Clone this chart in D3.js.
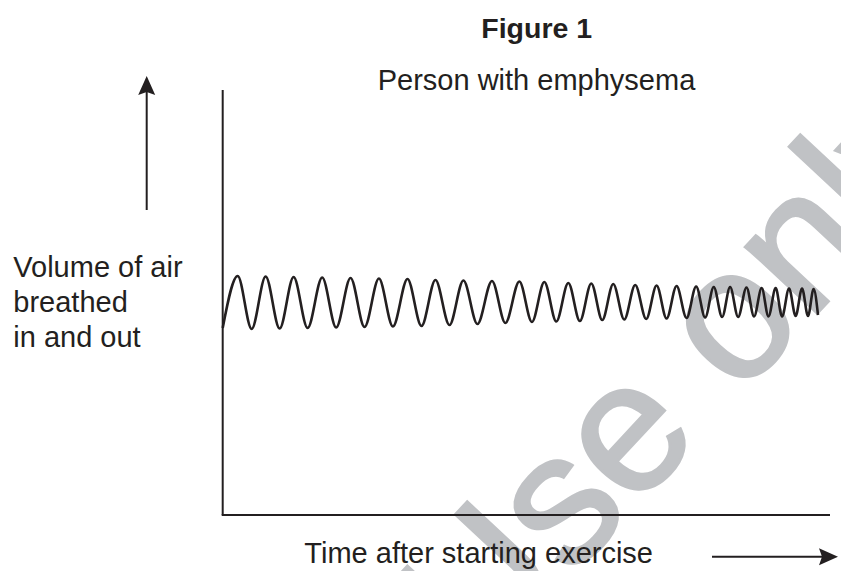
<!DOCTYPE html>
<html>
<head>
<meta charset="utf-8">
<script src="https://cdn.jsdelivr.net/npm/d3@7"></script>
<style>
  html, body { margin: 0; padding: 0; background: #ffffff; }
  svg { display: block; }
  text { font-family: "Liberation Sans", Arial, sans-serif; fill: #231f20; }
</style>
</head>
<body>
<svg id="chart" width="841" height="571"></svg>
<script>
// ---- Data ----
const title = "Figure 1";
const subtitle = "Person with emphysema";
const yLabelLines = ["Volume of air", "breathed", "in and out"];
const xLabel = "Time after starting exercise";
const watermark = "Use only";

// Breathing trace: alternating extrema (start, peak, trough, ... , end)
const breathTime = [
  0, 3.75, 7.25, 10.75, 14.25, 17.75, 21.25, 24.9, 28.4, 32, 35.5, 39.1, 42.6,
  46.25, 49.75, 53.25, 56.75, 60.25, 63.75, 67.4, 70.75, 74.25, 77.4, 80.5,
  83.5, 86.5, 89.4, 92.25, 95, 97.75, 100.5, 103.25, 106, 108.6, 111.1, 113.6,
  116.1, 118.5, 120.75, 122.9, 125, 127, 129, 131.1, 133, 134.9, 136.6, 138.4,
  140, 141.75, 143.4, 145, 146.5, 147.9, 149
];
const breathVolume = [
  37.4, 47.8, 37.2, 47.7, 37.3, 47.6, 37.4, 47.5, 37.5, 47.4, 37.6, 47.3, 37.7,
  47.2, 37.8, 47.0, 38.0, 46.9, 38.2, 46.8, 38.4, 46.7, 38.6, 46.6,
  38.7, 46.4, 38.8, 46.3, 39.0, 46.2, 39.1, 46.0, 39.2, 45.9, 39.3, 45.8,
  39.4, 45.7, 39.5, 45.6, 39.6, 45.6, 39.6, 45.5, 39.7, 45.4, 39.7, 45.4,
  39.7, 45.3, 39.8, 45.3, 39.8, 45.2, 40.0
];
const timeDomain = [0, 152];
const volumeDomain = [0, 85];

// ---- Drawing ----
const svg = d3.select("#chart");
const x = d3.scaleLinear().domain(timeDomain).range([222.7, 830]);
const y = d3.scaleLinear().domain(volumeDomain).range([515, 90]);
const ink = "#231f20";

// Watermark (behind everything)
svg.append("text")
  .attr("transform", "translate(479,676) rotate(-47)")
  .style("font-size", "185px")
  .style("fill", "#c0c2c5")
  .style("stroke", "#c0c2c5")
  .style("stroke-width", "3px")
  .text(watermark);

// Axes (lines only)
svg.append("line")
  .attr("x1", x(0)).attr("x2", x(0))
  .attr("y1", y(volumeDomain[1])).attr("y2", y(0))
  .attr("stroke", ink).attr("stroke-width", 2);
svg.append("line")
  .attr("x1", x(0) - 1).attr("x2", x(timeDomain[1]))
  .attr("y1", y(0)).attr("y2", y(0))
  .attr("stroke", ink).attr("stroke-width", 2);

// Breathing trace
const pts = breathTime.map((t, i) => [t, breathVolume[i]]);
const line = d3.line()
  .x(d => x(d[0]))
  .y(d => y(d[1]))
  .curve(d3.curveMonotoneX);
svg.append("path")
  .datum(pts)
  .attr("d", line)
  .attr("fill", "none")
  .attr("stroke", ink)
  .attr("stroke-width", 2.6)
  .attr("stroke-linejoin", "round");

// Titles
svg.append("text")
  .attr("x", 536.7).attr("y", 37.5)
  .attr("text-anchor", "middle")
  .style("font-size", "28.5px").style("font-weight", "bold")
  .text(title);
svg.append("text")
  .attr("x", 536.5).attr("y", 90)
  .attr("text-anchor", "middle")
  .style("font-size", "29px")
  .text(subtitle);

// Y label
svg.append("text")
  .attr("x", 13.3)
  .style("font-size", "29px")
  .selectAll("tspan")
  .data(yLabelLines)
  .join("tspan")
  .attr("x", 13.3)
  .attr("y", (d, i) => 276.7 + i * 35)
  .text(d => d);

// X label
svg.append("text")
  .attr("x", 653).attr("y", 563)
  .attr("text-anchor", "end")
  .style("font-size", "29px")
  .text(xLabel);

// Arrows
function arrow(x1, y1, x2, y2) {
  const ang = Math.atan2(y2 - y1, x2 - x1);
  const len = 19, half = 8.5, notch = 3;
  svg.append("line")
    .attr("x1", x1).attr("y1", y1)
    .attr("x2", x2 - Math.cos(ang) * (len - notch)).attr("y2", y2 - Math.sin(ang) * (len - notch))
    .attr("stroke", ink).attr("stroke-width", 2);
  const c = Math.cos(ang), s = Math.sin(ang);
  const p = [
    [x2, y2],
    [x2 - c * len - s * half, y2 - s * len + c * half],
    [x2 - c * (len - notch), y2 - s * (len - notch)],
    [x2 - c * len + s * half, y2 - s * len - c * half]
  ];
  svg.append("path")
    .attr("d", "M" + p.map(q => q.join(",")).join("L") + "Z")
    .attr("fill", ink);
}
arrow(146.7, 210, 146.7, 76);
arrow(712, 556.7, 838, 556.7);
</script>
</body>
</html>
